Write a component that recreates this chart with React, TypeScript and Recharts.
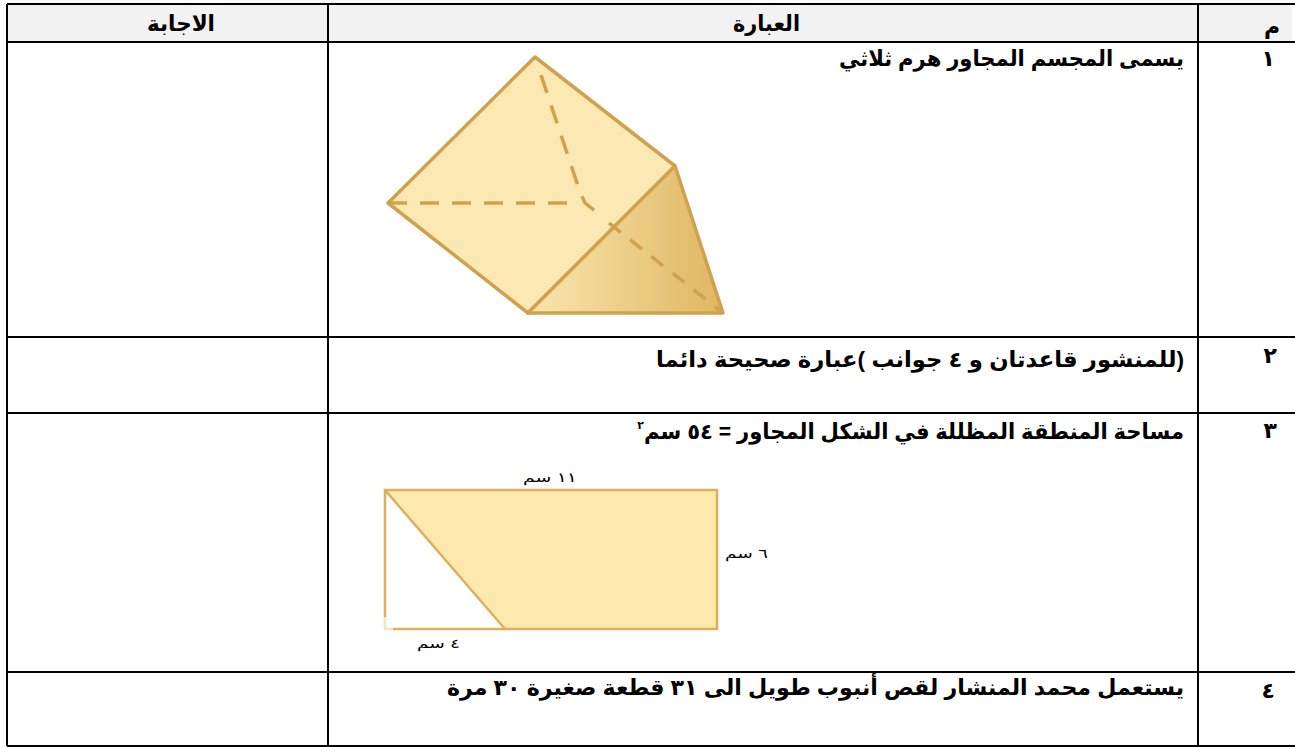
import React from 'react';
import { ScatterChart, Scatter, XAxis, YAxis, ReferenceLine, ReferenceArea } from 'recharts';

const W = 1295, H = 747;
const gridTop = 4, gridBottom = 746, gridLeft = 7, gridRight = 1295;
const columnLines = [7, 328, 1198];
const rowLines = [4, 42, 337, 413, 672, 746];

const prismFront = [{ x: 535, y: 57 }, { x: 388, y: 203 }, { x: 528, y: 313 }, { x: 675, y: 166 }];
const prismSide = [{ x: 675, y: 166 }, { x: 528, y: 313 }, { x: 723, y: 313 }];
const dashLeft = [{ x: 388, y: 203 }, { x: 575, y: 203 }];
const dashTop = [{ x: 541, y: 75 }, { x: 580, y: 192 }, { x: 585, y: 203 }, { x: 600, y: 215 }];
const dashRight = [{ x: 609, y: 223 }, { x: 723, y: 313 }];
const rectOutline = [{ x: 385, y: 617 }, { x: 385, y: 490 }, { x: 717, y: 490 }, { x: 717, y: 629 }, { x: 393, y: 629 }];
const rectCorner = [{ x: 385, y: 617 }, { x: 385, y: 629 }, { x: 393, y: 629 }];
const rectShaded = [{ x: 385, y: 490 }, { x: 717, y: 490 }, { x: 717, y: 629 }, { x: 505, y: 629 }];
const rectDiagonal = [{ x: 385, y: 490 }, { x: 505, y: 629 }];

const boldTexts = [
  { x: 1280, y: 34, t: 'م', w: 0 },
  { x: 1275, y: 66, t: '١', w: 0 },
  { x: 1277, y: 363, t: '٢', w: 0 },
  { x: 1277, y: 438, t: '٣', w: 0 },
  { x: 1275, y: 698, t: '٤', w: 0 },
  { x: 800, y: 31, t: 'العبارة', w: 67 },
  { x: 215, y: 31, t: 'الاجابة', w: 68 },
  { x: 1184, y: 66, t: 'يسمى المجسم المجاور هرم ثلاثي', w: 345 },
  { x: 1184, y: 367, t: '(للمنشور قاعدتان و ٤ جوانب )عبارة صحيحة دائما', w: 528 },
  { x: 1184, y: 439, t: 'مساحة المنطقة المظللة  في الشكل المجاور = ٥٤ سم', w: 540 },
  { x: 1184, y: 695, t: 'يستعمل محمد المنشار لقص أنبوب طويل الى ٣١ قطعة صغيرة ٣٠ مرة', w: 737 },
];
const superscripts = [{ x: 644, y: 429, t: '٢', w: 0 }];
const smallTexts = [
  { x: 577, y: 482, t: '١١ سم', w: 54 },
  { x: 768, y: 558, t: '٦ سم', w: 43 },
  { x: 460, y: 648, t: '٤ سم', w: 43 },
];

const ptsOf = (p: any) => (p.points || []).map((q: any) => `${q.cx ?? q.x},${q.cy ?? q.y}`).join(' ');
const poly = (fill: string, stroke: string, sw: number) => (p: any) => (
  <polygon points={ptsOf(p)} fill={fill} stroke={stroke} strokeWidth={sw} strokeLinejoin="round" style={{ filter: 'blur(0.4px)' }} />
);
const path = (stroke: string, sw: number, dash?: string) => (p: any) => (
  <polyline points={ptsOf(p)} fill="none" stroke={stroke} strokeWidth={sw} strokeDasharray={dash} style={{ filter: 'blur(0.4px)' }} />
);
const none = () => <g />;
const textShape = (size: number, weight: string) => (p: any) => (
  <text
    x={p.cx ?? p.x}
    y={p.cy ?? p.y}
    direction="rtl"
    textAnchor="start"
    fontSize={size}
    fontWeight={weight}
    fontFamily={'"Liberation Sans", "DejaVu Sans", sans-serif'}
    fill="#000"
    {...(p.w ? { textLength: p.w, lengthAdjust: 'spacingAndGlyphs' } : {})}
  >
    {p.t}
  </text>
);

const STROKE = '#cfa24f';
const RECT_STROKE = '#dcb05c';

export default function App() {
  return (
    <div style={{ position: 'absolute', left: 0, top: 0 }}>
      <ScatterChart width={W} height={H} margin={{ top: 0, right: 0, bottom: 0, left: 0 }}>
        <defs>
          <linearGradient id="side" x1="0" y1="0" x2="1" y2="0">
            <stop offset="0%" stopColor="#fbe6ae" />
            <stop offset="100%" stopColor="#dfb663" />
          </linearGradient>
        </defs>
        <XAxis type="number" dataKey="x" domain={[0, W]} hide allowDataOverflow />
        <YAxis type="number" dataKey="y" domain={[0, H]} reversed hide allowDataOverflow />
        <ReferenceArea x1={gridLeft} x2={1292} y1={gridTop} y2={rowLines[1]} fill="#f2f2f2" fillOpacity={1} stroke="none" />
        {columnLines.map((x) => (
          <ReferenceLine key={x} segment={[{ x, y: gridTop }, { x, y: gridBottom }]} stroke="#000" strokeWidth={2} />
        ))}
        {rowLines.map((y) => (
          <ReferenceLine key={y} segment={[{ x: gridLeft, y }, { x: gridRight, y }]} stroke="#000" strokeWidth={2} />
        ))}
        <Scatter data={prismFront} line={poly('#fce8b2', STROKE, 3.5)} shape={none} isAnimationActive={false} />
        <Scatter data={prismSide} line={poly('url(#side)', STROKE, 3.5)} shape={none} isAnimationActive={false} />
        <Scatter data={dashLeft} line={path(STROKE, 3.5, '19 13')} shape={none} isAnimationActive={false} />
        <Scatter data={dashTop} line={path(STROKE, 3.5, '19 13')} shape={none} isAnimationActive={false} />
        <Scatter data={dashRight} line={path(STROKE, 3.5, '15 12')} shape={none} isAnimationActive={false} />
        <Scatter data={rectShaded} line={poly('#fde8ae', 'none', 0)} shape={none} isAnimationActive={false} />
        <Scatter data={rectOutline} line={path(RECT_STROKE, 2.5)} shape={none} isAnimationActive={false} />
        <Scatter data={rectCorner} line={path('#f3e4c2', 2.5)} shape={none} isAnimationActive={false} />
        <Scatter data={rectDiagonal} line={path(RECT_STROKE, 2.5)} shape={none} isAnimationActive={false} />
        <Scatter data={boldTexts} shape={textShape(22, 'bold')} isAnimationActive={false} />
        <Scatter data={superscripts} shape={textShape(11, 'bold')} isAnimationActive={false} />
        <Scatter data={smallTexts} shape={textShape(13, 'normal')} isAnimationActive={false} />
      </ScatterChart>
    </div>
  );
}
